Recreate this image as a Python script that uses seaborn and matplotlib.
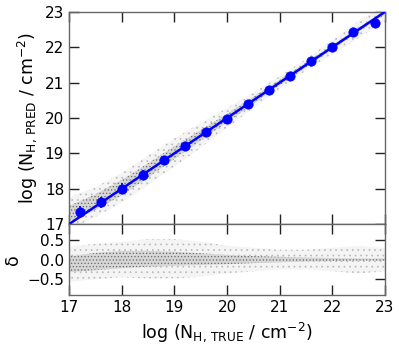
import numpy as np
import pandas as pd
import matplotlib
matplotlib.use("Agg")
import matplotlib.pyplot as plt
import seaborn as sns

# ---- data ----
# binned means (blue points)
bin_true = [17.2, 17.6, 18.0, 18.4, 18.8, 19.2, 19.6, 20.0, 20.4, 20.8, 21.2, 21.6, 22.0, 22.4, 22.8]
bin_pred = [17.35, 17.62, 18.0, 18.4, 18.8, 19.2, 19.6, 19.98, 20.4, 20.8, 21.2, 21.6, 22.0, 22.42, 22.68]
bin_err = [0.15, 0.15, 0.15, 0.13, 0.12, 0.1, 0.1, 0.08, 0.08, 0.07, 0.07, 0.07, 0.1, 0.1, 0.12]

# envelope of the scatter cloud (top panel): offset from 1:1 and half-widths
env_x = [17.0, 17.5, 18.0, 18.5, 19.0, 19.5, 20.0, 20.5, 21.0, 21.5, 22.0, 22.5, 23.0]
top_center = [0.3, 0.12, 0.03, 0.02, 0.02, 0.01, 0.0, 0.0, 0.0, 0.0, 0.0, 0.0, -0.03]
top_core = [0.22, 0.22, 0.22, 0.2, 0.18, 0.15, 0.12, 0.1, 0.08, 0.07, 0.06, 0.05, 0.05]
top_outer = [0.45, 0.42, 0.42, 0.42, 0.4, 0.35, 0.28, 0.22, 0.18, 0.16, 0.2, 0.25, 0.2]

# envelope of residuals (bottom panel)
res_center = [-0.12, -0.05, 0.0, 0.02, 0.02, 0.01, 0.0, 0.0, 0.0, 0.0, 0.0, 0.0, 0.0]
res_core = [0.2, 0.22, 0.22, 0.2, 0.18, 0.15, 0.12, 0.09, 0.07, 0.05, 0.04, 0.03, 0.03]
res_outer = [0.45, 0.45, 0.45, 0.5, 0.5, 0.45, 0.35, 0.3, 0.25, 0.25, 0.3, 0.35, 0.3]

one_to_one = [17, 23]

sns.set_style("ticks")
plt.rcParams['font.family'] = ['DejaVu Sans']
plt.rcParams['hatch.linewidth'] = 0.5
plt.rcParams['text.color'] = 'black'
plt.rcParams['axes.labelcolor'] = 'black'
plt.rcParams['xtick.color'] = 'black'
plt.rcParams['ytick.color'] = 'black'

fig = plt.figure(figsize=(3.99, 3.47), dpi=100)
ax1 = fig.add_axes([0.173, 0.354, 0.792, 0.612])
ax2 = fig.add_axes([0.173, 0.150, 0.792, 0.204], sharex=ax1)

ex = np.array(env_x)
# top cloud
c = ex + np.array(top_center)
ax1.fill_between(ex, c - np.array(top_outer), c + np.array(top_outer),
                 facecolor='#f4f4f4', edgecolor='#b8b8b8', hatch='...', linewidth=0, zorder=1)
ax1.fill_between(ex, c - np.array(top_core), c + np.array(top_core),
                 facecolor='#d6d6d6', edgecolor='#6a6a6a', hatch='.....', linewidth=0, zorder=2)

df_line = pd.DataFrame({'x': one_to_one, 'y': one_to_one})
sns.lineplot(data=df_line, x='x', y='y', ax=ax1, color='#0000ff', linewidth=1.8, zorder=3)

ax1.errorbar(bin_true, bin_pred, yerr=bin_err, fmt='none', ecolor='#0000ff', elinewidth=1.2, zorder=4)
df_bin = pd.DataFrame({'x': bin_true, 'y': bin_pred})
sns.scatterplot(data=df_bin, x='x', y='y', ax=ax1, color='#0000ff', s=45, edgecolor='#0000ff', zorder=5)

# residual cloud
rc = np.array(res_center)
ax2.fill_between(ex, rc - np.array(res_outer), rc + np.array(res_outer),
                 facecolor='#f4f4f4', edgecolor='#b8b8b8', hatch='...', linewidth=0, zorder=1)
ax2.fill_between(ex, rc - np.array(res_core), rc + np.array(res_core),
                 facecolor='#d6d6d6', edgecolor='#6a6a6a', hatch='.....', linewidth=0, zorder=2)

ax1.set_xlim(17, 23)
ax1.set_ylim(17, 23)
ax2.set_ylim(-0.9, 0.9)
ax1.set_xticks(range(17, 24))
ax1.set_yticks(range(17, 24))
ax2.set_yticks([-0.5, 0.0, 0.5])

for ax in (ax1, ax2):
    ax.tick_params(direction='in', top=True, right=True, length=7, width=1,
                   labelsize=11, color='#222222', labelcolor='black')
    for s in ax.spines.values():
        s.set_color('#666666')
        s.set_linewidth(1.0)
ax1.tick_params(labelbottom=False)

ax1.set_xlabel('')
ax1.set_ylabel(r'log (N$_{\rm H,\,PRED}$ / cm$^{-2}$)', fontsize=12.5)
ax2.set_ylabel('δ', fontsize=12.5)
ax2.set_xlabel(r'log (N$_{\rm H,\,TRUE}$ / cm$^{-2}$)', fontsize=12.5)
fig.align_ylabels([ax1, ax2])

fig.savefig('out.png', dpi=100)
